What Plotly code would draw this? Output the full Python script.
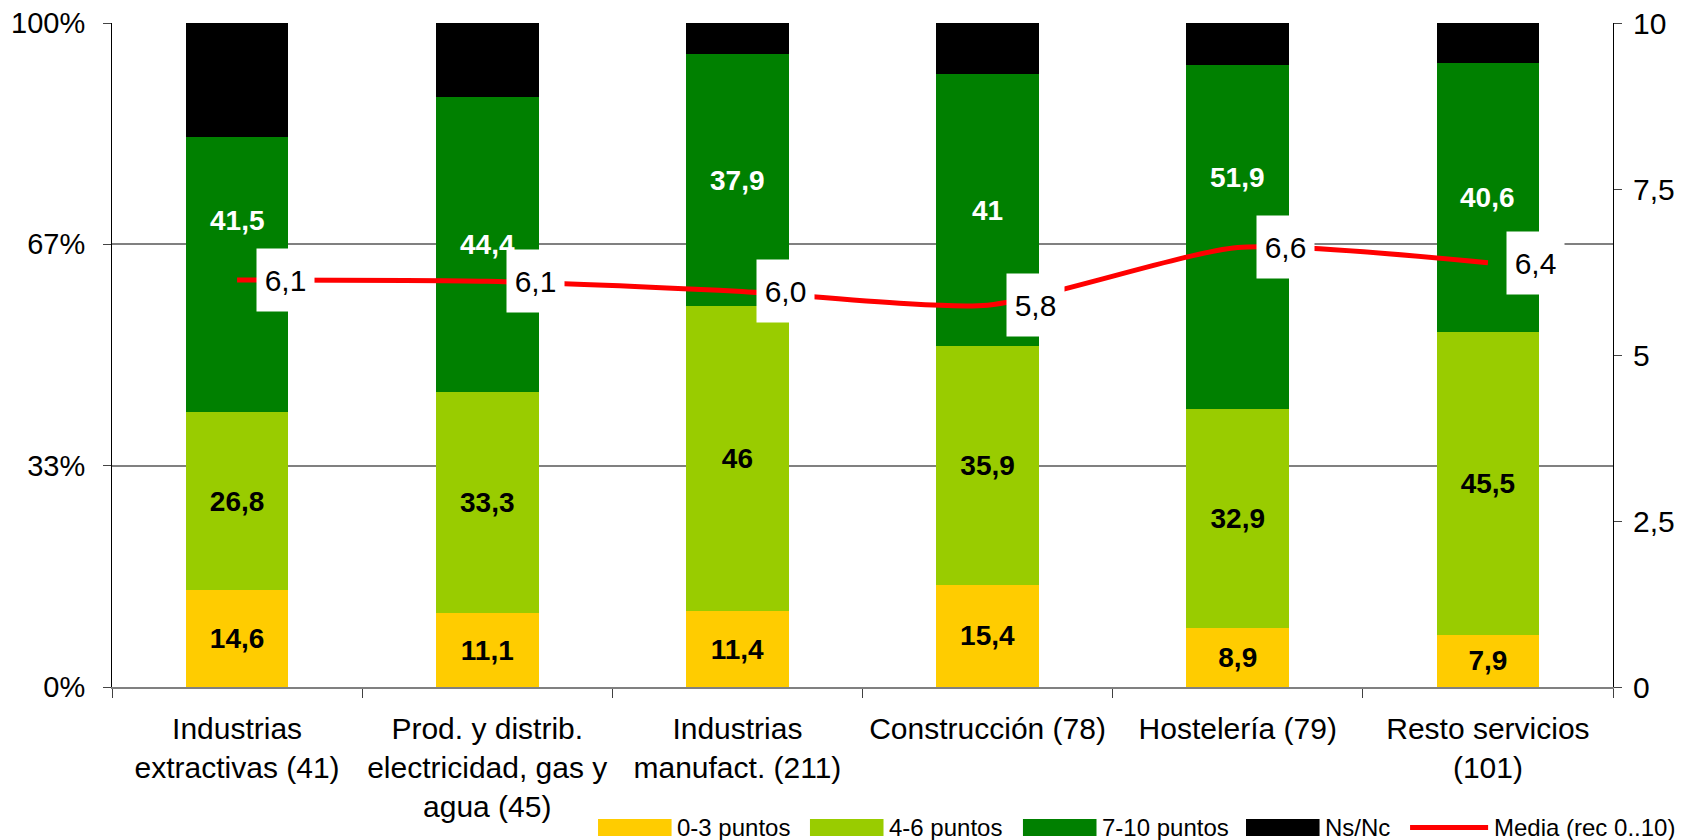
import plotly.graph_objects as go

categories = [
    "Industrias<br>extractivas (41)",
    "Prod. y distrib.<br>electricidad, gas y<br>agua (45)",
    "Industrias<br>manufact. (211)",
    "Construcción (78)",
    "Hostelería (79)",
    "Resto servicios<br>(101)",
]
p03 = [14.6, 11.1, 11.4, 15.4, 8.9, 7.9]
p46 = [26.8, 33.3, 46.0, 35.9, 32.9, 45.5]
p710 = [41.5, 44.4, 37.9, 41.0, 51.9, 40.6]
nsnc = [17.1, 11.2, 4.7, 7.7, 6.3, 6.0]
media = [6.13, 6.11, 5.96, 5.75, 6.62, 6.39]
media_labels = ["6,1", "6,1", "6,0", "5,8", "6,6", "6,4"]

p03_txt = ["14,6", "11,1", "11,4", "15,4", "8,9", "7,9"]
p46_txt = ["26,8", "33,3", "46", "35,9", "32,9", "45,5"]
p710_txt = ["41,5", "44,4", "37,9", "41", "51,9", "40,6"]

series_names = ["0-3 puntos", "4-6 puntos", "7-10 puntos", "Ns/Nc", "Media (rec 0..10)"]

# label nudges (px, upward) for the 7-10 labels, as in the original
green_nudge = [54, 0, 0, 0, 60, 0]

FONT = "Arial, Liberation Sans, sans-serif"
YEL, LIME, GRN, BLK, RED = "#FFCC00", "#99CC00", "#008000", "#000000", "#FF0000"
colors = [YEL, LIME, GRN, BLK, RED]

fig = go.Figure()
lbl_font = dict(family=FONT, size=28, color="black", weight="bold")
nol = dict(width=0)

fig.add_bar(x=categories, y=[v / 100 for v in p03], name=series_names[0], marker=dict(color=YEL, line=nol),
            text=p03_txt, textposition="inside", insidetextanchor="middle",
            textfont=lbl_font, textangle=0)
fig.add_bar(x=categories, y=[v / 100 for v in p46], name=series_names[1], marker=dict(color=LIME, line=nol),
            text=p46_txt, textposition="inside", insidetextanchor="middle",
            textfont=lbl_font, textangle=0)
fig.add_bar(x=categories, y=[v / 100 for v in p710], name=series_names[2], marker=dict(color=GRN, line=nol))
fig.add_bar(x=categories, y=[v / 100 for v in nsnc], name=series_names[3], marker=dict(color=BLK, line=nol))
fig.add_scatter(x=categories, y=media, name=series_names[4], mode="lines", yaxis="y2",
                line=dict(color=RED, width=5, shape="spline", smoothing=0.6))

for i, c in enumerate(categories):
    base = (p03[i] + p46[i] + p710[i] / 2) / 100
    fig.add_annotation(x=c, y=base, xref="x", yref="y", text=p710_txt[i], showarrow=False,
                       yshift=green_nudge[i],
                       font=dict(family=FONT, size=28, color="white", weight="bold"))
    fig.add_annotation(x=c, y=media[i], xref="x", yref="y2", text=media_labels[i],
                       showarrow=False, xshift=48, width=55, height=60, bgcolor="white",
                       font=dict(family=FONT, size=30, color="black"))

# custom legend (wide swatches like the original)
leg_x0 = [0.3238, 0.4650, 0.6069, 0.7555, 0.8648]
sw_w = 0.049
y_top, y_bot = -0.1988, -0.2244
y_mid = (y_top + y_bot) / 2
for i, name in enumerate(series_names):
    if i < 4:
        fig.add_shape(type="rect", xref="paper", yref="paper", x0=leg_x0[i], x1=leg_x0[i] + sw_w,
                      y0=y_bot, y1=y_top, fillcolor=colors[i], line=dict(width=0))
    else:
        fig.add_shape(type="line", xref="paper", yref="paper", x0=leg_x0[i], x1=leg_x0[i] + 0.052,
                      y0=y_mid, y1=y_mid, line=dict(color=colors[i], width=5))
    tx = leg_x0[i] + (sw_w if i < 4 else 0.052) + 0.0025
    fig.add_annotation(x=tx, y=y_mid, xref="paper", yref="paper", text=name, showarrow=False,
                       xanchor="left", yanchor="middle",
                       font=dict(family=FONT, size=24, color="black"))

fig.update_layout(
    width=1697, height=840,
    barmode="stack", bargap=0.59,
    separators=",.",
    plot_bgcolor="white", paper_bgcolor="white",
    margin=dict(l=104, r=92, t=15, b=161, autoexpand=False),
    font=dict(family=FONT, size=29, color="black"),
    showlegend=False,
    xaxis=dict(showline=True, linecolor="#808080", linewidth=2, ticks="outside",
               tickson="boundaries", ticklen=9, tickcolor="#404040", tickangle=0,
               tickfont=dict(size=30), automargin=False, ticklabelstandoff=14),
    yaxis=dict(range=[0, 1], tickvals=[0, 1 / 3, 2 / 3, 1], ticktext=["0%", "33%", "67%", "100%"],
               showgrid=True, gridcolor="#808080", gridwidth=1.5, showline=True,
               linecolor="black", linewidth=1, ticks="outside", ticklen=8,
               tickfont=dict(size=29), zeroline=False, automargin=False,
               ticklabeloverflow="allow", ticklabelstandoff=12),
    yaxis2=dict(range=[0, 10], dtick=2.5, overlaying="y", side="right", showgrid=False,
                showline=True, linecolor="black", linewidth=1, ticks="outside", ticklen=8,
                tickfont=dict(size=30), zeroline=False, automargin=False,
                ticklabeloverflow="allow", ticklabelstandoff=5),
)

fig.write_html("out.html")
